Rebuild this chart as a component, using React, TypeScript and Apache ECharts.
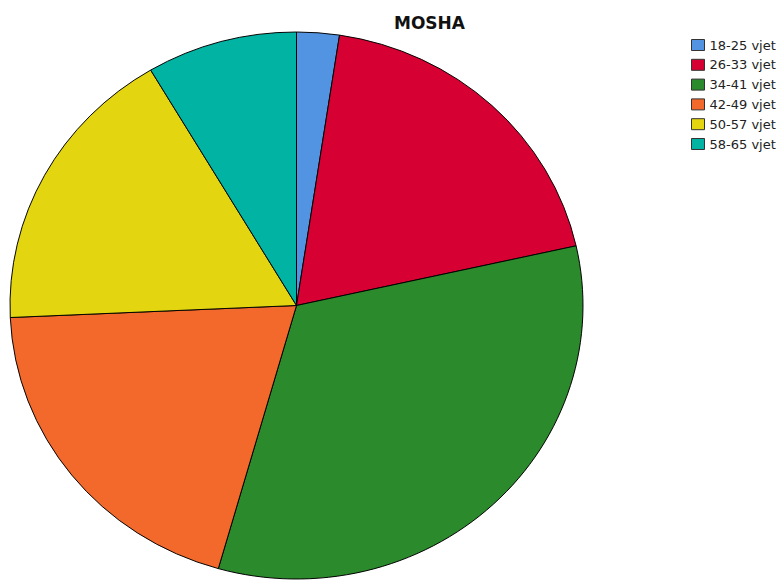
import React, { useEffect, useRef } from "react";
import * as echarts from "echarts";

const categories = ["18-25 vjet", "26-33 vjet", "34-41 vjet", "42-49 vjet", "50-57 vjet", "58-65 vjet"];
const values = [2.4, 19.1, 32.9, 19.9, 17.2, 8.5];
const colors = ["#5294E2", "#D60032", "#2B8A2B", "#F2692B", "#E3D610", "#00B3A2"];
const titleText = "MOSHA";

const FONT = "'DejaVu Sans', Verdana, sans-serif";

function buildData() {
  return categories.map((name, i) => ({
    name,
    value: values[i],
    itemStyle: { color: colors[i] },
  }));
}

export default function App() {
  const pieRef = useRef<HTMLDivElement>(null);
  const topRef = useRef<HTMLDivElement>(null);

  useEffect(() => {
    if (!pieRef.current || !topRef.current) return;
    const pieChart = echarts.init(pieRef.current, null, { renderer: "svg" });
    const topChart = echarts.init(topRef.current, null, { renderer: "svg" });

    pieChart.setOption({
      animation: false,
      series: [
        {
          type: "pie",
          center: [296.5, 305.5],
          radius: 286.5,
          startAngle: 90,
          clockwise: true,
          label: { show: false },
          labelLine: { show: false },
          emphasis: { disabled: true },
          itemStyle: { borderColor: "#000", borderWidth: 1 },
          data: buildData(),
        },
      ],
    });

    topChart.setOption({
      animation: false,
      title: {
        text: titleText,
        left: 424.5,
        textAlign: "center",
        top: 9,
        textStyle: { fontFamily: FONT, fontSize: 17, fontWeight: "bold", color: "#111" },
      },
      legend: {
        orient: "vertical",
        left: 691,
        top: 38.5,
        padding: 0,
        itemWidth: 13,
        itemHeight: 11,
        itemGap: 6.8,
        icon: "rect",
        itemStyle: { borderColor: "#333", borderWidth: 1 },
        textStyle: { fontFamily: FONT, fontSize: 13, lineHeight: 13, color: "#222" },
        selectedMode: false,
        data: categories,
      },
      series: [
        {
          type: "pie",
          center: [-1000, -1000],
          radius: 0,
          label: { show: false },
          labelLine: { show: false },
          silent: true,
          itemStyle: { borderWidth: 0 },
          data: buildData(),
        },
      ],
    });

    return () => {
      pieChart.dispose();
      topChart.dispose();
    };
  }, []);

  return (
    <div style={{ position: "fixed", left: 0, top: 0, width: 781, height: 583, background: "#fff", overflow: "hidden" }}>
      <div
        ref={pieRef}
        style={{
          position: "absolute",
          left: 0,
          top: 0,
          width: 781,
          height: 620,
          transform: "scaleY(0.9546)",
          transformOrigin: "296.5px 305.5px",
        }}
      />
      <div ref={topRef} style={{ position: "absolute", left: 0, top: 0, width: 781, height: 583 }} />
    </div>
  );
}
